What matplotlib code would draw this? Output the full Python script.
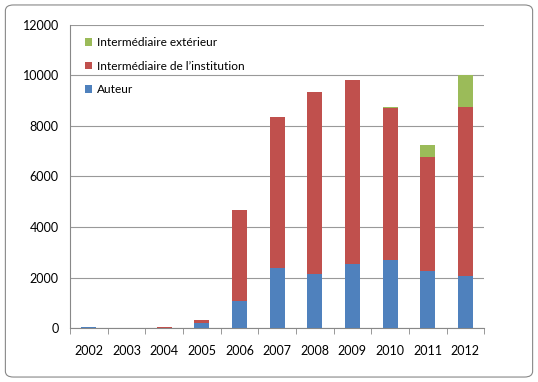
import numpy as np
import matplotlib.pyplot as plt
from matplotlib.patches import FancyBboxPatch

plt.rcParams['font.family'] = ['Lato', 'DejaVu Sans']

# Data
years = ['2002', '2003', '2004', '2005', '2006', '2007', '2008', '2009', '2010', '2011', '2012']
auteur = [40, 10, 10, 190, 1070, 2380, 2130, 2550, 2680, 2260, 2060]
interne = [0, 10, 40, 140, 3600, 5980, 7210, 7250, 6020, 4510, 6700]
externe = [0, 0, 0, 0, 0, 0, 0, 0, 40, 490, 1240]

fig = plt.figure(figsize=(5.38, 3.82), dpi=100)
ax = fig.add_axes([0.130, 0.141, 0.770, 0.794])

x = np.arange(len(years))
w = 0.4
bottom2 = np.array(auteur)
bottom3 = bottom2 + np.array(interne)
b1 = ax.bar(x, auteur, w, color='#4F81BD', label='Auteur', zorder=3)
b2 = ax.bar(x, interne, w, bottom=bottom2, color='#C0504D',
            label='Intermédiaire de l\u2019institution', zorder=3)
b3 = ax.bar(x, externe, w, bottom=bottom3, color='#9BBB59',
            label='Intermédiaire extérieur', zorder=3)

ax.set_xlim(-0.5, len(years) - 0.5)
ax.set_ylim(0, 12000)
ax.set_yticks(range(0, 12001, 2000))
ax.set_xticks(x)
ax.set_xticklabels(years)
ax.set_xticks(np.arange(-0.5, len(years)), minor=True)
ax.tick_params(axis='x', which='major', length=0, pad=12, labelsize=9)
ax.tick_params(axis='x', which='minor', length=4, color='#888888', direction='out')
ax.tick_params(axis='y', length=0, pad=8, labelsize=9)

ax.grid(axis='y', color='#999999', linewidth=0.8, zorder=0)
for s in ['top', 'right']:
    ax.spines[s].set_visible(False)
ax.spines['left'].set_color('#888888')
ax.spines['bottom'].set_color('#888888')

handles = [b3, b2, b1]
ax.legend(handles=handles, labels=[h.get_label() for h in handles],
          loc='upper left', bbox_to_anchor=(0.01, 0.995), frameon=False,
          fontsize=8.6, handlelength=0.6, handleheight=0.6,
          handletextpad=0.4, labelspacing=1.05)

border = FancyBboxPatch((0.01, 0.013), 0.98, 0.974, boxstyle='round,pad=0,rounding_size=0.015',
                        transform=fig.transFigure, fill=False, edgecolor='#888888', linewidth=0.8)
fig.patches.append(border)

fig.savefig('out.png', dpi=100)
